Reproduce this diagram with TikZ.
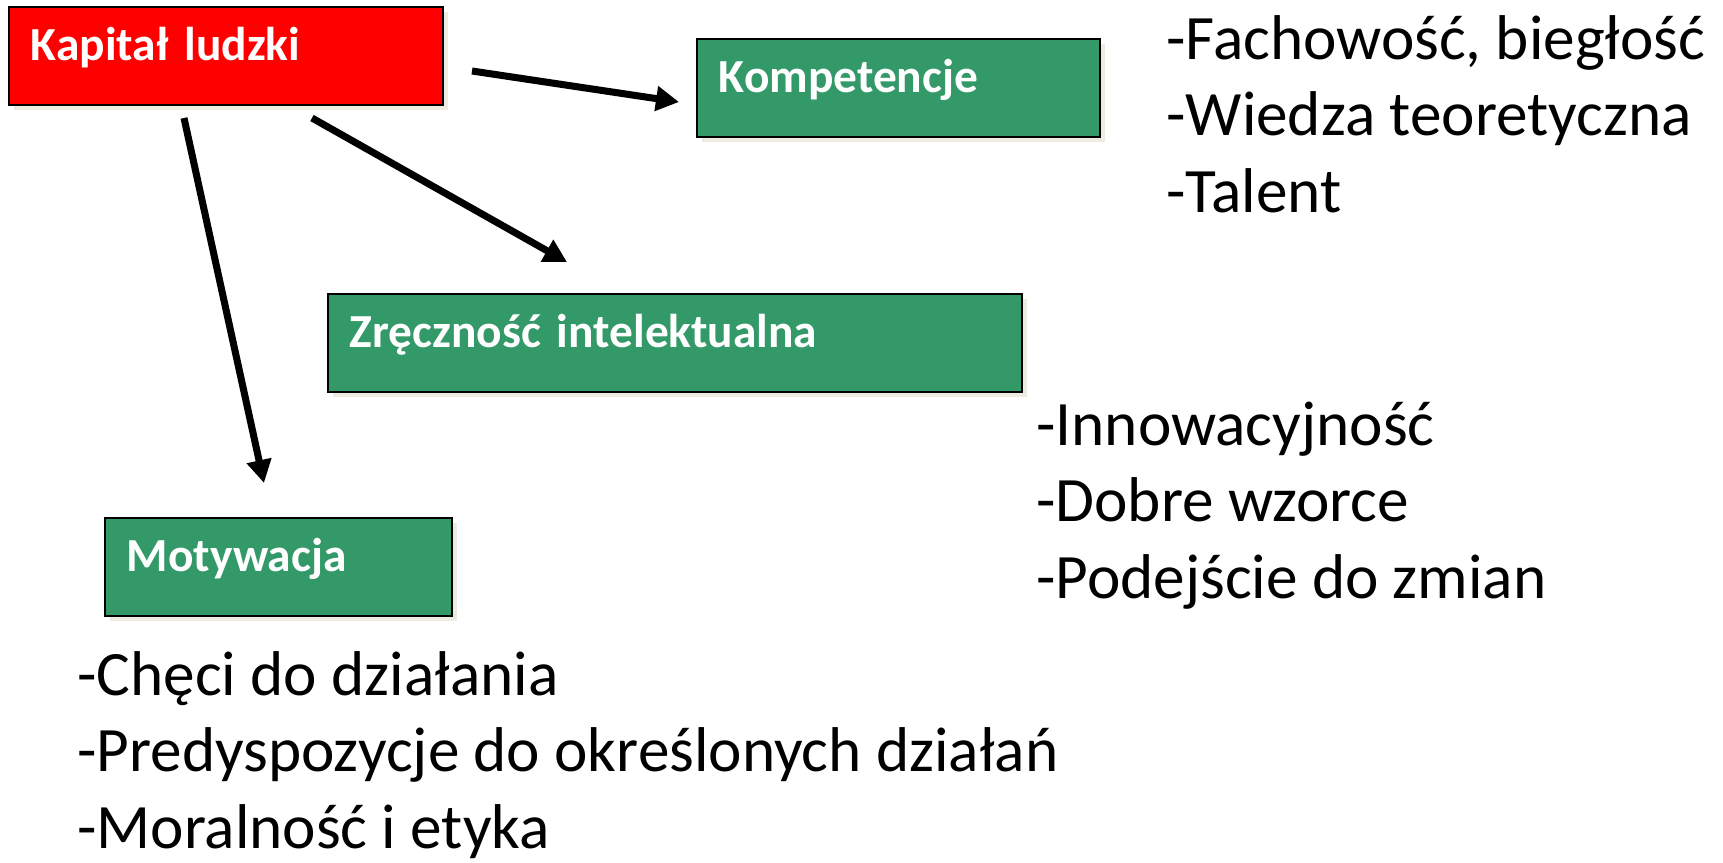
\documentclass[tikz,border=0pt]{standalone}
\usepackage{fontspec}
\setmainfont{Carlito}
\usetikzlibrary{arrows.meta, shadows}

\definecolor{kapred}{RGB}{255,0,0}
\definecolor{boxgreen}{RGB}{51,153,104}
\definecolor{shadowbeige}{RGB}{238,236,225}
\newcommand{\boxfont}{\fontsize{27}{30}\selectfont\bfseries}
\newcommand{\listfont}{\fontsize{36}{43.3}\selectfont}

\begin{document}
\begin{tikzpicture}[
    x=0.02cm, y=-0.02cm,
    box/.style={draw=black, line width=1pt, anchor=north west, inner xsep=0.44cm, inner ysep=0pt,
        text height=1.08cm, text depth=0.88cm, text=white, font=\boxfont, align=left,
        drop shadow={shadow xshift=0.1cm, shadow yshift=-0.1cm, fill=shadowbeige, opacity=1}},
    list/.style={anchor=base west, inner sep=0pt, align=left, font=\listfont},
    arrow/.style={-{Triangle[length=0.46cm, width=0.48cm]}, line width=4pt}
]
    \useasboundingbox (0,0) rectangle (1723,862);

    \node[box, fill=kapred, text width=7.8cm] (kapital) at (8,6) {Kapitał ludzki};
    \node[box, fill=boxgreen, text width=7.18cm] (komp) at (696,38) {Kompetencje};
    \node[box, fill=boxgreen, text width=13cm] (zrecz) at (327,293) {Zręczność intelektualna};
    \node[box, fill=boxgreen, text width=6.06cm] (motyw) at (104,517) {Motywacja};

    % base west = linia bazowa ostatniego wiersza
    \node[list] (kompcechy) at (1166,212) {-Fachowość, biegłość\\-Wiedza teoretyczna\\-Talent};
    \node[list] (zreczcechy) at (1036,598) {-Innowacyjność\\-Dobre wzorce\\-Podejście do zmian};
    \node[list] (motywcechy) at (77,848) {-Chęci do działania\\-Predyspozycje do określonych działań\\-Moralność i etyka};

    % wolne konce strzalek
    \coordinate (dokomp0) at (472,71);
    \coordinate (dokomp1) at (679,102);
    \coordinate (dozrecz0) at (312,118);
    \coordinate (dozrecz1) at (567,262);
    \coordinate (domotyw0) at (184,118);
    \coordinate (domotyw1) at (264,483);

    \draw[arrow] (dokomp0) -- (dokomp1);
    \draw[arrow] (dozrecz0) -- (dozrecz1);
    \draw[arrow] (domotyw0) -- (domotyw1);
\end{tikzpicture}
\end{document}
